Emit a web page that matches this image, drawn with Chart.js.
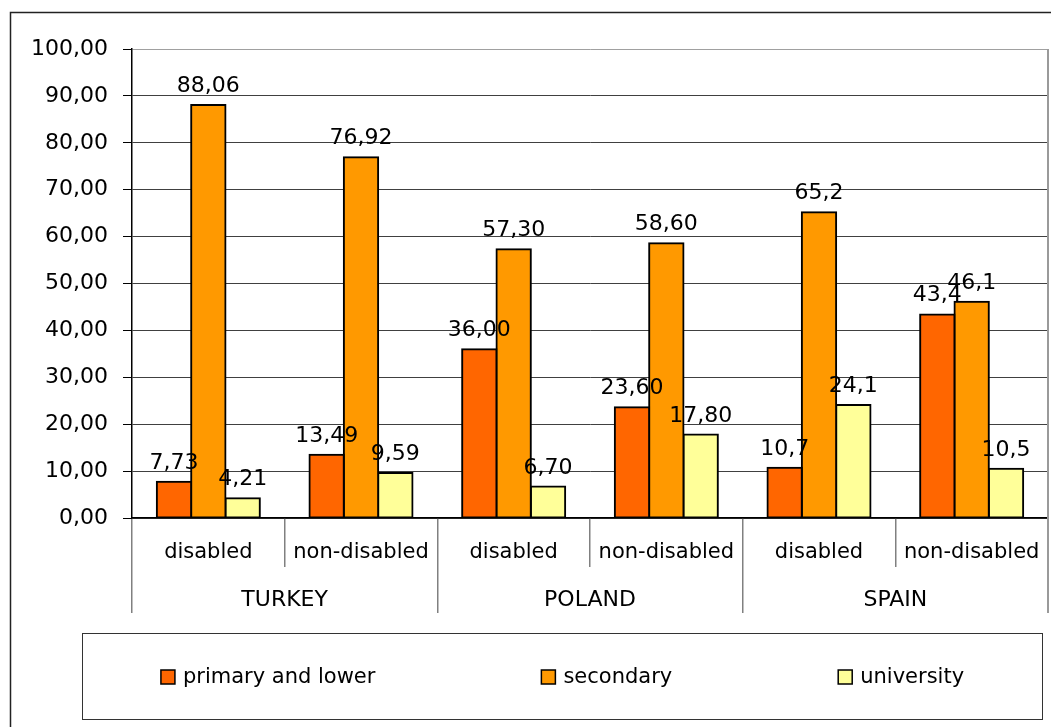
<!DOCTYPE html>
<html><head><meta charset="utf-8">
<script src="https://cdn.jsdelivr.net/npm/chart.js@4.4.0/dist/chart.umd.min.js"></script>
<style>html,body{margin:0;padding:0;background:#fff;} #wrap{width:1051px;height:727px;position:relative;}</style>
</head><body><div id="wrap"><canvas id="c"></canvas></div>
<script>
const groupLabels = ['disabled', 'non-disabled', 'disabled', 'non-disabled', 'disabled', 'non-disabled'];
const countryLabels = ['TURKEY', 'POLAND', 'SPAIN'];
const seriesNames = ['primary and lower', 'secondary', 'university'];
const primaryAndLower = [7.73, 13.49, 36.00, 23.60, 10.7, 43.4];
const secondary = [88.06, 76.92, 57.30, 58.60, 65.2, 46.1];
const university = [4.21, 9.59, 6.70, 17.80, 24.1, 10.5];
const labelDecimals = [2, 2, 2, 2, 1, 1];
const yMin = 0, yMax = 100, yStep = 10;

const FONT = 'DejaVu Sans';
const fmt = (v, d) => v.toFixed(d).replace('.', ',');

const framePlugin = {
  id: 'frame',
  beforeDraw(chart) {
    const ctx = chart.ctx;
    ctx.save();
    ctx.fillStyle = '#fff';
    ctx.fillRect(0, 0, chart.width, chart.height);
    ctx.strokeStyle = '#222';
    ctx.lineWidth = 1.5;
    ctx.strokeRect(10.5, 12.5, chart.width + 50, chart.height + 50);
    ctx.restore();
  },
  afterDraw(chart) {
    const ctx = chart.ctx;
    const a = chart.chartArea;
    const x2 = chart.scales.x2;
    ctx.save();
    ctx.strokeStyle = '#9a9a9a';
    ctx.lineWidth = 2;
    ctx.beginPath();
    ctx.moveTo(a.right, a.top);
    ctx.lineTo(a.right, x2.bottom);
    ctx.stroke();
    ctx.restore();
  }
};

const valueLabelPlugin = {
  id: 'valueLabels',
  afterDatasetsDraw(chart) {
    const ctx = chart.ctx;
    ctx.save();
    ctx.font = '22px "' + FONT + '"';
    ctx.fillStyle = '#000';
    ctx.textAlign = 'center';
    ctx.textBaseline = 'alphabetic';
    chart.data.datasets.forEach((ds, di) => {
      const meta = chart.getDatasetMeta(di);
      meta.data.forEach((el, i) => {
        ctx.fillText(fmt(ds.data[i], labelDecimals[i]), el.x, el.y - 13);
      });
    });
    ctx.restore();
  }
};

const boxLegendPlugin = {
  id: 'boxLegend',
  afterDraw(chart) {
    const ctx = chart.ctx;
    const bx = 82.5, by = 633.5, bw = 960, bh = 86;
    ctx.save();
    ctx.strokeStyle = '#333';
    ctx.lineWidth = 1;
    ctx.strokeRect(bx, by, bw, bh);
    ctx.font = '21px "' + FONT + '"';
    const sq = 14, gapText = 8, itemGap = 166;
    const ds = chart.data.datasets;
    const widths = ds.map(d => sq + gapText + ctx.measureText(d.label).width);
    const total = widths.reduce((s, w) => s + w, 0) + itemGap * (ds.length - 1);
    let x = bx + bw / 2 - total / 2;
    const cy = 677;
    ds.forEach((d, i) => {
      ctx.fillStyle = d.backgroundColor;
      ctx.fillRect(x, cy - sq / 2, sq, sq);
      ctx.strokeStyle = '#000';
      ctx.lineWidth = 1.5;
      ctx.strokeRect(x, cy - sq / 2, sq, sq);
      ctx.fillStyle = '#000';
      ctx.textAlign = 'left';
      ctx.textBaseline = 'middle';
      ctx.fillText(d.label, x + sq + gapText, cy + 1);
      x += widths[i] + itemGap;
    });
    ctx.restore();
  }
};

const common = { borderColor: '#000', borderWidth: 2, borderSkipped: false, inflateAmount: 1, barPercentage: 1.0, categoryPercentage: 0.675 };

new Chart(document.getElementById('c'), {
  type: 'bar',
  data: {
    labels: groupLabels,
    datasets: [
      Object.assign({ label: seriesNames[0], data: primaryAndLower, backgroundColor: '#FF6600' }, common),
      Object.assign({ label: seriesNames[1], data: secondary, backgroundColor: '#FF9900' }, common),
      Object.assign({ label: seriesNames[2], data: university, backgroundColor: '#FFFF99' }, common)
    ]
  },
  options: {
    responsive: true,
    maintainAspectRatio: false,
    animation: false,
    layout: { padding: { left: 0, top: 49, right: 3, bottom: 114 } },
    plugins: { legend: { display: false }, tooltip: { enabled: false } },
    scales: {
      y: {
        min: yMin, max: yMax,
        afterFit(s) { s.width = 132; },
        ticks: {
          stepSize: yStep,
          padding: 15,
          color: '#000',
          font: { family: FONT, size: 22 },
          callback: v => fmt(v, 2)
        },
        grid: {
          color: c => (c.tick && c.tick.value === yMax) ? '#a0a0a0' : '#404040',
          tickColor: '#000',
          tickLength: 9,
          lineWidth: 1
        },
        border: { color: '#000', width: 1.5 }
      },
      x: {
        weight: 0,
        afterFit(s) { s.height = 49; },
        ticks: {
          padding: -27,
          color: '#000',
          maxRotation: 0,
          autoSkip: false,
          font: { family: FONT, size: 21 }
        },
        grid: {
          offset: true,
          drawOnChartArea: false,
          tickLength: 49,
          tickColor: '#808080',
          lineWidth: 1.5
        },
        border: { color: '#000', width: 1.5 }
      },
      x2: {
        type: 'category',
        position: 'bottom',
        weight: 1,
        labels: countryLabels,
        offset: true,
        afterFit(s) { s.height = 46; },
        ticks: {
          padding: -26,
          color: '#000',
          maxRotation: 0,
          autoSkip: false,
          font: { family: FONT, size: 22 }
        },
        grid: {
          offset: true,
          drawOnChartArea: false,
          tickLength: 46,
          tickColor: '#808080',
          lineWidth: 1.5
        },
        border: { display: false }
      }
    }
  },
  plugins: [framePlugin, valueLabelPlugin, boxLegendPlugin]
});
</script>
</body></html>
